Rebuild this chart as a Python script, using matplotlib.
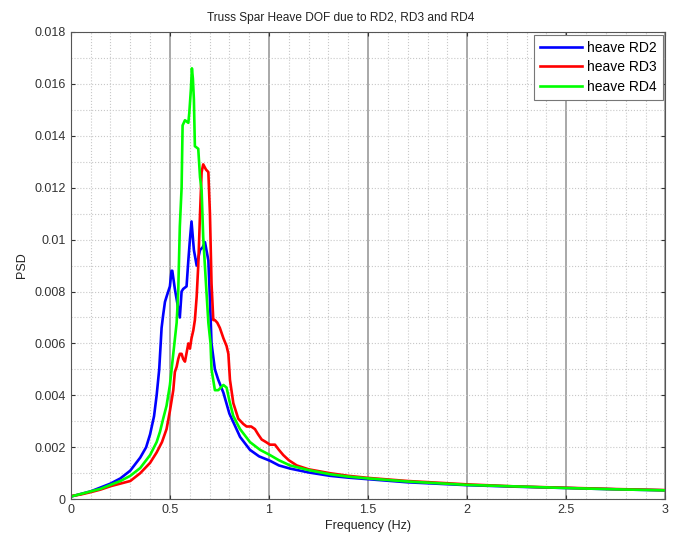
import matplotlib
matplotlib.use("Agg")
import matplotlib.pyplot as plt
from matplotlib.ticker import MultipleLocator

plt.rcParams['font.family'] = ['Liberation Sans', 'DejaVu Sans']

title = "Truss Spar Heave DOF due to RD2, RD3 and RD4"
xlabel = "Frequency (Hz)"
ylabel = "PSD"
series_names = ["heave RD2", "heave RD3", "heave RD4"]

x_ticks = [0, 0.5, 1, 1.5, 2, 2.5, 3]
x_ticklabels = ["0", "0.5", "1", "1.5", "2", "2.5", "3"]
y_ticks = [0, 0.002, 0.004, 0.006, 0.008, 0.010, 0.012, 0.014, 0.016, 0.018]
y_ticklabels = ["0", "0.002", "0.004", "0.006", "0.008", "0.01", "0.012", "0.014", "0.016", "0.018"]

rd2_f = [0, 0.05, 0.1, 0.15, 0.2, 0.25, 0.3, 0.35, 0.38, 0.4, 0.42, 0.433, 0.446, 0.458,
         0.466, 0.475, 0.483, 0.50, 0.508, 0.512, 0.525, 0.534, 0.55, 0.559, 0.567, 0.584,
         0.593, 0.601, 0.609, 0.621, 0.635, 0.652, 0.665, 0.677, 0.694, 0.702, 0.71, 0.727,
         0.744, 0.77, 0.80, 0.854, 0.904, 0.95, 1.005, 1.05, 1.106, 1.2, 1.308, 1.4, 1.5,
         1.7, 2.0, 2.25, 2.5, 2.75, 3.0]
rd2_v = [0.0001, 0.0002, 0.0003, 0.00045, 0.0006, 0.0008, 0.0011, 0.0016, 0.0020, 0.0025,
         0.0032, 0.0040, 0.0050, 0.0066, 0.0071, 0.0076, 0.0078, 0.0082, 0.0088, 0.0088,
         0.0081, 0.0077, 0.0070, 0.0080, 0.0081, 0.0082, 0.0092, 0.0100, 0.0107, 0.0096,
         0.0090, 0.0096, 0.0097, 0.0099, 0.0092, 0.0077, 0.0060, 0.0050, 0.0046, 0.0041,
         0.0033, 0.0024, 0.0019, 0.00165, 0.00148, 0.0013, 0.00118, 0.00103, 0.0009,
         0.00083, 0.00077, 0.00065, 0.00054, 0.00048, 0.00043, 0.00038, 0.00034]

rd3_f = [0, 0.05, 0.1, 0.15, 0.2, 0.25, 0.3, 0.35, 0.4, 0.433, 0.46, 0.483, 0.5, 0.517,
         0.525, 0.534, 0.542, 0.55, 0.559, 0.567, 0.576, 0.593, 0.601, 0.609, 0.618, 0.626,
         0.635, 0.643, 0.652, 0.66, 0.668, 0.682, 0.694, 0.702, 0.71, 0.719, 0.727, 0.739,
         0.752, 0.77, 0.786, 0.795, 0.803, 0.82, 0.845, 0.87, 0.887, 0.91, 0.929, 0.945,
         0.963, 0.985, 1.005, 1.03, 1.05, 1.072, 1.1, 1.14, 1.2, 1.308, 1.4, 1.5, 1.7,
         1.864, 2.0, 2.25, 2.5, 2.75, 3.0]
rd3_v = [0.00012, 0.00018, 0.00027, 0.00037, 0.0005, 0.0006, 0.0007, 0.0010, 0.0014,
         0.0018, 0.0022, 0.0027, 0.0034, 0.0042, 0.0049, 0.0051, 0.0054, 0.0056, 0.0056,
         0.0054, 0.0053, 0.0060, 0.0058, 0.0062, 0.0065, 0.0069, 0.0078, 0.0090, 0.0110,
         0.0126, 0.0129, 0.0127, 0.0126, 0.0110, 0.0083, 0.0069, 0.0069, 0.0068, 0.0066,
         0.0062, 0.0059, 0.0056, 0.0046, 0.0037, 0.0031, 0.0029, 0.0028, 0.0028, 0.0027,
         0.0025, 0.0023, 0.0022, 0.0021, 0.0021, 0.0019, 0.0017, 0.0015, 0.0013, 0.00115,
         0.0010, 0.0009, 0.00082, 0.0007, 0.00063, 0.00057, 0.00049, 0.00044, 0.00039,
         0.00035]

rd4_f = [0, 0.05, 0.1, 0.15, 0.2, 0.25, 0.3, 0.35, 0.4, 0.433, 0.45, 0.466, 0.483, 0.5,
         0.517, 0.534, 0.542, 0.55, 0.559, 0.564, 0.576, 0.593, 0.598, 0.606, 0.611, 0.616,
         0.621, 0.626, 0.643, 0.652, 0.66, 0.668, 0.682, 0.694, 0.705, 0.71, 0.727, 0.744,
         0.77, 0.786, 0.80, 0.82, 0.854, 0.904, 0.955, 1.005, 1.05, 1.106, 1.2, 1.308, 1.4,
         1.5, 1.7, 2.0, 2.25, 2.5, 2.75, 3.0]
rd4_v = [0.0001, 0.0002, 0.0003, 0.0004, 0.00055, 0.0007, 0.0009, 0.0012, 0.0017, 0.0022,
         0.0026, 0.0031, 0.0036, 0.0044, 0.0056, 0.0068, 0.0080, 0.0105, 0.0120, 0.0144,
         0.0146, 0.0145, 0.0149, 0.0158, 0.0166, 0.0162, 0.0154, 0.0136, 0.0135, 0.0124,
         0.0119, 0.0101, 0.0083, 0.0068, 0.0060, 0.0050, 0.0042, 0.0042, 0.0044, 0.0043,
         0.0038, 0.0032, 0.0027, 0.0022, 0.0019, 0.0017, 0.0015, 0.0013, 0.00112, 0.00096,
         0.00087, 0.0008, 0.00068, 0.00055, 0.00049, 0.00043, 0.00038, 0.00034]

colors = ["#0000ff", "#ff0000", "#00ff00"]

fig = plt.figure(figsize=(6.81, 5.42), dpi=100)
ax = fig.add_axes([0.104, 0.079, 0.873, 0.862])

for f, v, c, name in zip([rd2_f, rd3_f, rd4_f], [rd2_v, rd3_v, rd4_v], colors, series_names):
    ax.plot(f, v, color=c, lw=1.9, label=name, solid_joinstyle='round')

ax.set_xlim(0, 3)
ax.set_ylim(0, 0.018)
ax.set_xticks(x_ticks)
ax.set_xticklabels(x_ticklabels)
ax.set_yticks(y_ticks)
ax.set_yticklabels(y_ticklabels)
ax.xaxis.set_minor_locator(MultipleLocator(0.1))
ax.yaxis.set_minor_locator(MultipleLocator(0.001))

ax.grid(True, axis='x', which='major', color='#999999', lw=1.2, ls='-')
ax.grid(True, axis='x', which='minor', color='#c8c8c8', lw=0.8, ls=':')
ax.grid(True, axis='y', which='both', color='#c8c8c8', lw=0.8, ls=':')
ax.set_axisbelow(True)

ax.tick_params(which='both', direction='in', labelsize=9, colors='#333333', length=3,
               top=True, right=True)
ax.tick_params(which='minor', length=0)
for s in ax.spines.values():
    s.set_color('#555555')
    s.set_linewidth(0.8)

fig.text(340.5 / 681, 1 - 18 / 542, title, fontsize=8.6, color='#222222',
         ha='center', va='center')
ax.set_xlabel(xlabel, fontsize=9, color='#222222', labelpad=3)
ax.set_ylabel(ylabel, fontsize=9, color='#222222', labelpad=5)

leg = ax.legend(loc='upper right', fontsize=10, handlelength=3.0, labelspacing=0.38,
                borderpad=0.45, handletextpad=0.35, fancybox=False, framealpha=1,
                borderaxespad=0.2)
leg.get_frame().set_edgecolor('#777777')
leg.get_frame().set_linewidth(0.8)

fig.savefig("out.png", dpi=100)
